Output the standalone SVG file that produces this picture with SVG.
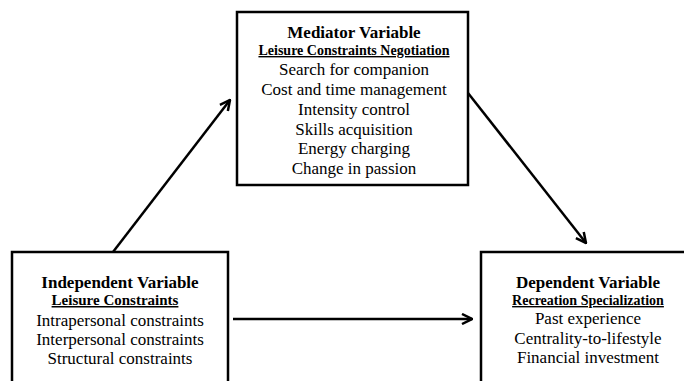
<svg xmlns="http://www.w3.org/2000/svg" width="684" height="381" viewBox="0 0 684 381">
<style>
.box{fill:#fff;stroke:#000;stroke-width:2.5}
text{font-family:"Liberation Serif","Times New Roman",serif;fill:#000;text-anchor:middle}
.t{font-weight:bold;font-size:17px}
.s{font-weight:bold;font-size:14px;text-decoration:underline}
.l{font-size:17px}
.c{stroke:#000;stroke-width:2.5;fill:none}
</style>
<defs>
<marker id="ah" viewBox="0 0 10 10" refX="9" refY="5" markerWidth="5" markerHeight="5" orient="auto" markerUnits="strokeWidth">
<path d="M1,1 L9,5 L1,9" fill="none" stroke="#000" stroke-width="2"/>
</marker>
</defs>
<g id="connectors">
<line class="c" x1="113" y1="252" x2="230" y2="100" marker-end="url(#ah)"/>
<line class="c" x1="468" y1="93" x2="586" y2="243" marker-end="url(#ah)"/>
<line class="c" x1="233" y1="319" x2="472" y2="319" marker-end="url(#ah)"/>
</g>
<g id="mediator">
<rect class="box" x="237" y="12" width="231" height="173"/>
<text class="t" x="354" y="38">Mediator Variable</text>
<text class="s" x="354" y="55">Leisure Constraints Negotiation</text>
<text class="l" x="354" y="75">Search for companion</text>
<text class="l" x="354" y="95">Cost and time management</text>
<text class="l" x="354" y="115">Intensity control</text>
<text class="l" x="354" y="135">Skills acquisition</text>
<text class="l" x="354" y="154">Energy charging</text>
<text class="l" x="354" y="174">Change in passion</text>
</g>
<g id="independent">
<rect class="box" x="12" y="252" width="216" height="140"/>
<text class="t" x="120" y="288">Independent Variable</text>
<text class="s" x="115" y="305" style="font-size:15px">Leisure Constraints</text>
<text class="l" x="120" y="326">Intrapersonal constraints</text>
<text class="l" x="120" y="345">Interpersonal constraints</text>
<text class="l" x="120" y="364">Structural constraints</text>
</g>
<g id="dependent">
<rect class="box" x="481" y="252" width="220" height="140"/>
<text class="t" x="588" y="288">Dependent Variable</text>
<text class="s" x="588" y="305">Recreation Specialization</text>
<text class="l" x="588" y="324">Past experience</text>
<text class="l" x="588" y="344">Centrality-to-lifestyle</text>
<text class="l" x="588" y="363">Financial investment</text>
</g>
</svg>
